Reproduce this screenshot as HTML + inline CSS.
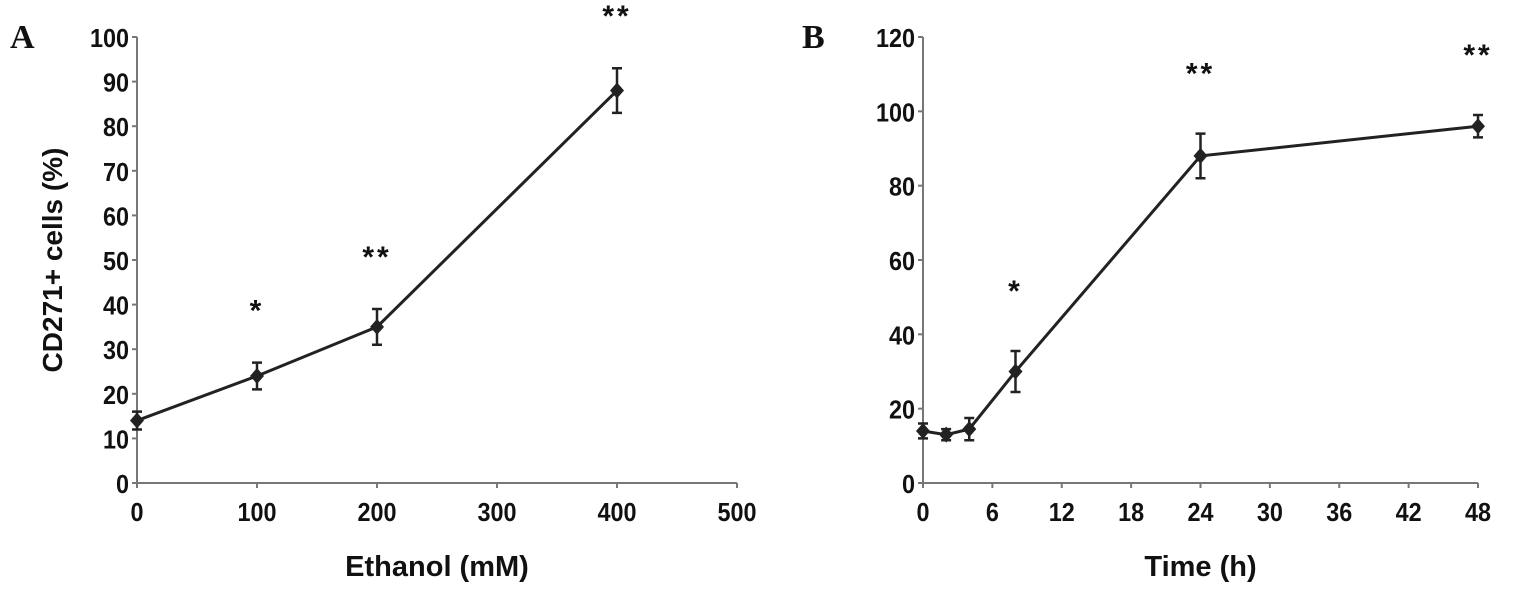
<!DOCTYPE html>
<html><head><meta charset="utf-8"><style>
body{margin:0;background:#fff}
svg{display:block}
text{font-family:"Liberation Sans",sans-serif;font-weight:bold;fill:#111}
</style></head><body>
<svg id="c" width="1520" height="593"></svg>
<script>
const catsA=[0,100,200,400];
const valsA=[14,24,35,88];
const errA=[2,3,4,5];
const starsA=["","*","**","**"];
const ticksXA=[0,100,200,300,400,500];
const ticksYA=[0,10,20,30,40,50,60,70,80,90,100];
const catsB=[0,2,4,8,24,48];
const valsB=[14,13,14.5,30,88,96];
const errB=[2,1.5,3,5.5,6,3];
const starsB=["","","","*","**","**"];
const ticksXB=[0,6,12,18,24,30,36,42,48];
const ticksYB=[0,20,40,60,80,100,120];
const NS="http://www.w3.org/2000/svg";
const svg=document.getElementById('c');
function mk(t,a,p){const e=document.createElementNS(NS,t);for(const k in a)e.setAttribute(k,a[k]);(p||svg).appendChild(e);return e;}
function panel(o){
 const g=mk('g',{});
 
 
 const sx=v=>o.x0+(v-o.xmin)/(o.xmax-o.xmin)*(o.x1-o.x0);
 const sy=v=>o.y0-(v-o.ymin)/(o.ymax-o.ymin)*(o.y0-o.y1);
 let ax=mk('line',{x1:o.x0,y1:o.y0,x2:o.x0,y2:o.y1,stroke:'#777','stroke-width':2},g);
 
 
 ax=mk('line',{x1:o.x0,y1:o.y0,x2:o.x1,y2:o.y0,stroke:'#777','stroke-width':2},g);
 
 
 o.ty.forEach(v=>{mk('line',{x1:o.x0-5,y1:sy(v),x2:o.x0,y2:sy(v),stroke:'#777','stroke-width':2},g);
  const t=mk('text',{x:o.x0-8,y:sy(v)+10,'text-anchor':'end','font-size':26,transform:`translate(${(o.x0-8)*0.1},0) scale(0.9,1)`},g);t.textContent=v;
  
  });
 o.tx.forEach(v=>{mk('line',{x1:sx(v),y1:o.y0,x2:sx(v),y2:o.y0+5,stroke:'#777','stroke-width':2},g);
  const t=mk('text',{x:sx(v),y:o.y0+38,'text-anchor':'middle','font-size':26,transform:`translate(${sx(v)*0.1},0) scale(0.9,1)`},g);t.textContent=v;
  
  });
 const pl=mk('polyline',{points:o.cx.map((c,i)=>sx(c)+','+sy(o.v[i])).join(' '),fill:'none',stroke:'#222','stroke-width':3},g);
 
 
 o.cx.forEach((c,i)=>{const X=sx(c),t=sy(o.v[i]+o.e[i]),b=sy(o.v[i]-o.e[i]);
  const eb=mk('path',{d:`M${X},${t}V${b}M${X-5},${t}H${X+5}M${X-5},${b}H${X+5}`,stroke:'#222','stroke-width':2.5,fill:'none'},g);
  
  
  const Y=sy(o.v[i]);
  const m=mk('path',{d:`M${X},${Y-8}L${X+7},${Y}L${X},${Y+8}L${X-7},${Y}Z`,fill:'#222'},g);
  
  
  if(o.s[i]){const s=mk('text',{x:X,y:t-o.sOff,'text-anchor':'middle','font-size':30,'font-weight':'normal','letter-spacing':3},g);s.textContent=o.s[i];
   
   }
 });
 const xt=mk('text',{x:(o.x0+o.x1)/2,y:576,'text-anchor':'middle','font-size':29},g);xt.textContent=o.xt;
 
 
 const L=mk('text',{x:o.lx,y:48,'font-size':34,style:'font-family:"Liberation Serif",serif'},g);L.textContent=o.L;
 
 
 return g;
}
panel({name:'panel-a',x0:137,x1:737,y0:483,y1:37,xmin:0,xmax:500,ymin:0,ymax:100,cx:catsA,v:valsA,e:errA,s:starsA,tx:ticksXA,ty:ticksYA,xt:'Ethanol (mM)',L:'A',lx:10,sOff:42});
panel({name:'panel-b',x0:923,x1:1478,y0:483,y1:37,xmin:0,xmax:48,ymin:0,ymax:120,cx:catsB,v:valsB,e:errB,s:starsB,tx:ticksXB,ty:ticksYB,xt:'Time (h)',L:'B',lx:802,sOff:50});
const yt=mk('text',{x:0,y:0,'text-anchor':'middle','font-size':28,transform:'translate(62,260) rotate(-90)'});
yt.textContent='CD271+ cells (%)';


</script>
</body></html>
